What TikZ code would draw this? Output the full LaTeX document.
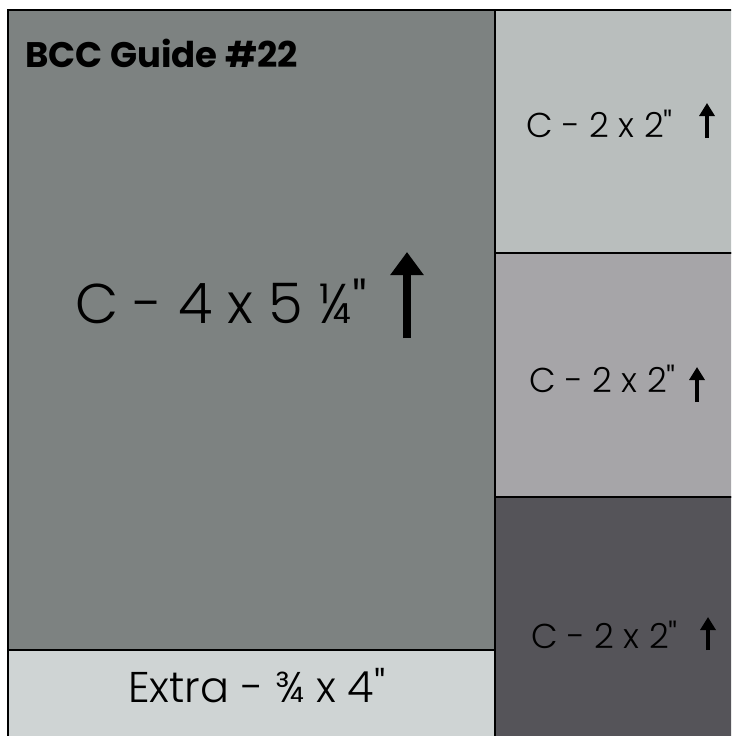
\documentclass[tikz,border=0pt]{standalone}
\usepackage{fontspec}
\setmainfont{Poppins}[Ligatures=TeXOff,UprightFont=* Light,BoldFont=* Bold]
\usetikzlibrary{arrows.meta}
\definecolor{cmain}{HTML}{7D8281}
\definecolor{ctop}{HTML}{B9BEBD}
\definecolor{cmid}{HTML}{A6A5A8}
\definecolor{cbot}{HTML}{555459}
\definecolor{cextra}{HTML}{CFD4D4}
\tikzset{
  panel/.style={draw=black,line width=2pt},
  lbl/.style={anchor=base west,inner sep=0pt,text=black},
  small/.style={lbl,font=\fontsize{34.5}{40}\selectfont},
  bigarrow/.style={line width=8pt,-{Triangle[width=32pt,length=23pt]}},
  smallarrow/.style={line width=3.6pt,-{Triangle[width=15pt,length=13pt]}}
}
\begin{document}
\begin{tikzpicture}[x=1pt,y=-1pt]
\useasboundingbox (0,0) rectangle (731,736);
\clip (0,0) rectangle (731,736);
\fill[white] (0,0) rectangle (731,736);
% panels
\filldraw[panel,fill=cmain] (8,10) rectangle (495,650);
\filldraw[panel,fill=cextra] (8,650) rectangle (495,740);
\filldraw[panel,fill=ctop] (495,10) rectangle (735,253);
\filldraw[panel,fill=cmid] (495,253) rectangle (735,497);
\filldraw[panel,fill=cbot] (495,497) rectangle (735,740);
% texts
\node[lbl,font=\fontsize{35.5}{40}\selectfont\bfseries] (title) at (25,67) {BCC Guide \#22};
\node[lbl,font=\fontsize{56}{62}\selectfont] (big) at (75,323) {C - 4 x 5 ¼"};
\node[small] (t1) at (526,137) {C - 2 x 2"};
\node[small] (t2) at (529,392) {C - 2 x 2"};
\node[small] (t3) at (531,648) {C - 2 x 2"};
\node[lbl,font=\fontsize{43}{48}\selectfont] (extra) at (128,702) {Extra - ¾ x 4"};
% arrows
\coordinate (ba0) at (407,338); \coordinate (ba1) at (407,252);
\draw[bigarrow] (ba0) -- (ba1);
\coordinate (a10) at (707,138); \coordinate (a11) at (707,103);
\draw[smallarrow] (a10) -- (a11);
\coordinate (a20) at (697,402); \coordinate (a21) at (697,367);
\draw[smallarrow] (a20) -- (a21);
\coordinate (a30) at (708,650); \coordinate (a31) at (708,617);
\draw[smallarrow] (a30) -- (a31);
\end{tikzpicture}
\end{document}
